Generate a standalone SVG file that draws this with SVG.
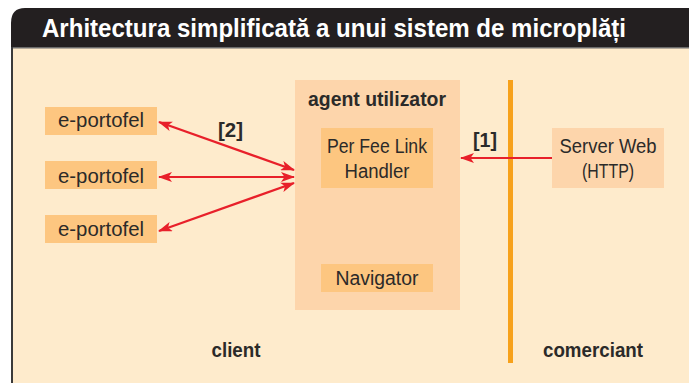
<svg xmlns="http://www.w3.org/2000/svg" width="689" height="383" viewBox="0 0 689 383">
<defs>
<style>
.lbl{font-family:"Liberation Sans",Arial,sans-serif;font-size:19.5px;fill:#2b2a29;text-anchor:middle}
.b{font-weight:bold}
.conn{stroke:#e8202a;stroke-width:2.2;fill:none}
</style>
<marker id="ah" viewBox="0 0 14 10" refX="13" refY="5" markerWidth="14" markerHeight="10" markerUnits="userSpaceOnUse" orient="auto-start-reverse">
<path d="M0,0 L14,5 L0,10 L3.5,5 z" fill="#e8202a"/>
</marker>
</defs>
<rect x="0" y="0" width="689" height="383" fill="#ffffff"/>
<rect x="12" y="47" width="677" height="336" fill="#feebcc"/>
<path d="M11,47 V23 Q11,8 25,8 H689 V47 Z" fill="#231f20"/>
<rect x="11" y="47" width="678" height="1.5" fill="#6b6b6b"/>
<rect x="11" y="47" width="2" height="336" fill="#3a3a3a"/>
<text x="42" y="37" font-family="'Liberation Sans',Arial,sans-serif" font-size="26" font-weight="bold" fill="#ffffff" textLength="584" lengthAdjust="spacingAndGlyphs">Arhitectura simplificată a unui sistem de microplăți</text>

<rect x="508" y="80" width="5" height="283" fill="#f7a11a"/>

<g id="agent">
<rect x="295" y="80" width="165" height="230" fill="#fdd5ab"/>
<text class="lbl b" x="377" y="106" textLength="138" lengthAdjust="spacingAndGlyphs">agent utilizator</text>
</g>
<g id="handler">
<rect x="321" y="128" width="112" height="60" fill="#fdc680"/>
<text class="lbl" x="377" y="153" textLength="100" lengthAdjust="spacingAndGlyphs">Per Fee Link</text>
<text class="lbl" x="377" y="178" textLength="65" lengthAdjust="spacingAndGlyphs">Handler</text>
</g>
<g id="navigator">
<rect x="321" y="264" width="112" height="28" fill="#fdc680"/>
<text class="lbl" x="377" y="285" textLength="83" lengthAdjust="spacingAndGlyphs">Navigator</text>
</g>
<g id="wallet1">
<rect x="45" y="107" width="112" height="28" fill="#fdc680"/>
<text class="lbl" x="101" y="127" textLength="86" lengthAdjust="spacingAndGlyphs">e-portofel</text>
</g>
<g id="wallet2">
<rect x="45" y="161" width="112" height="28" fill="#fdc680"/>
<text class="lbl" x="101" y="183" textLength="86" lengthAdjust="spacingAndGlyphs">e-portofel</text>
</g>
<g id="wallet3">
<rect x="45" y="215" width="112" height="28" fill="#fdc680"/>
<text class="lbl" x="101" y="236" textLength="86" lengthAdjust="spacingAndGlyphs">e-portofel</text>
</g>
<g id="server">
<rect x="552" y="128" width="112" height="60" fill="#fdd5ab"/>
<text class="lbl" x="608" y="153" textLength="97" lengthAdjust="spacingAndGlyphs">Server Web</text>
<text class="lbl" x="608" y="178" textLength="52" lengthAdjust="spacingAndGlyphs">(HTTP)</text>
</g>

<g id="connectors">
<line class="conn" x1="159" y1="122" x2="294" y2="170" marker-start="url(#ah)" marker-end="url(#ah)"/>
<line class="conn" x1="159" y1="177" x2="294" y2="177" marker-start="url(#ah)" marker-end="url(#ah)"/>
<line class="conn" x1="159" y1="231" x2="294" y2="183" marker-start="url(#ah)" marker-end="url(#ah)"/>
<line class="conn" x1="552" y1="158" x2="461" y2="158" marker-end="url(#ah)"/>
<text class="lbl b" x="230.5" y="137" textLength="25" lengthAdjust="spacingAndGlyphs">[2]</text>
<text class="lbl b" x="485" y="147" textLength="24" lengthAdjust="spacingAndGlyphs">[1]</text>
</g>

<text class="lbl b" x="236" y="357" textLength="49" lengthAdjust="spacingAndGlyphs">client</text>
<text class="lbl b" x="593" y="357" textLength="100" lengthAdjust="spacingAndGlyphs">comerciant</text>
</svg>
